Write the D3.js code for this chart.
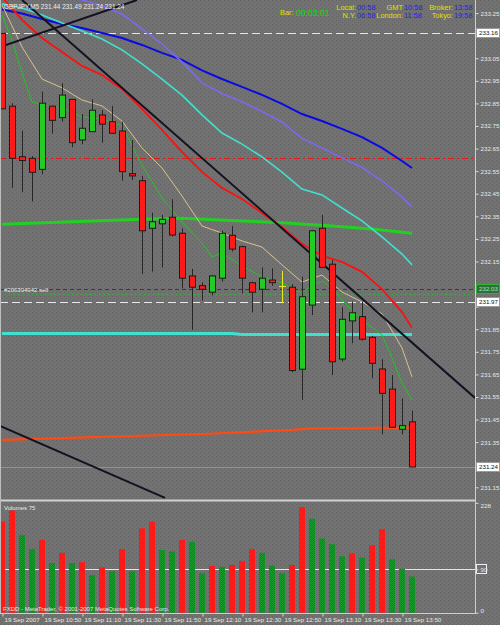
<!DOCTYPE html>
<html>
<head>
<meta charset="utf-8">
<script src="https://cdnjs.cloudflare.com/ajax/libs/d3/7.8.5/d3.min.js"></script>
<style>
  body { margin: 0; background: #717171; }
  svg { display: block; font-family: "Liberation Sans", Arial, sans-serif; }
</style>
</head>
<body>
<div id="chart"></div>
<script>
var svgWidth = 500;
var svgHeight = 625;

// GBPJPY M5 candles, 19 Sep 2007 from 10:30 (one bar every 5 min)
var opens  = [233.160, 232.838, 232.614, 232.607, 232.558, 232.838, 232.787, 232.868, 232.688, 232.725,
              232.799, 232.769, 232.728, 232.539, 232.508, 232.297, 232.317, 232.346, 232.275, 232.086,
              232.043, 232.014, 232.076, 232.266, 232.216, 232.056, 232.027, 232.068, 232.043, 232.036,
              231.673, 231.957, 232.297, 232.138, 231.718, 231.887, 231.906, 231.814, 231.674, 231.585,
              231.407, 231.440];
var highs  = [233.160, 232.851, 232.729, 232.617, 232.902, 232.840, 232.939, 232.870, 232.803, 232.868,
              232.821, 232.839, 232.769, 232.688, 232.529, 232.366, 232.356, 232.426, 232.297, 232.117,
              232.058, 232.090, 232.286, 232.307, 232.220, 232.060, 232.124, 232.120, 232.109, 232.050,
              232.083, 232.290, 232.356, 232.157, 231.947, 231.972, 231.972, 231.820, 231.717, 231.647,
              231.544, 231.490];
var lows   = [232.826, 232.477, 232.457, 232.415, 232.536, 232.716, 232.769, 232.656, 232.669, 232.723,
              232.676, 232.716, 232.508, 232.511, 232.095, 232.105, 232.123, 232.260, 232.031, 231.847,
              231.977, 232.000, 232.061, 232.194, 232.009, 231.925, 231.925, 232.042, 231.965, 231.660,
              231.537, 231.913, 232.120, 231.647, 231.706, 231.788, 231.800, 231.633, 231.385, 231.414,
              231.385, 231.240];
var closes = [232.826, 232.607, 232.597, 232.545, 232.851, 232.775, 232.887, 232.676, 232.740, 232.820,
              232.758, 232.718, 232.548, 232.529, 232.286, 232.326, 232.337, 232.267, 232.076, 232.036,
              232.027, 232.086, 232.275, 232.205, 232.076, 232.014, 232.076, 232.056, 232.043, 231.667,
              231.994, 232.286, 232.124, 231.706, 231.894, 231.923, 231.806, 231.699, 231.566, 231.416,
              231.423, 231.240];
var volumes = [189, 212, 161, 132, 151, 103, 124, 103, 105, 78,
               94, 86, 132, 86, 175, 189, 130, 127, 151, 147,
               82, 97, 95, 99, 107, 132, 124, 98, 82, 99,
               219, 195, 154, 142, 117, 123, 114, 140, 173, 111,
               91, 75];

// moving averages, read at these bars
var maBars    = [0, 2, 4, 6, 8, 10, 12, 14, 16, 18, 20, 22, 24, 26, 28, 30, 32, 34, 36, 38, 40, 41];
var blueMA    = [233.266, 233.248, 233.224, 233.202, 233.184, 233.162, 233.140, 233.109, 233.074, 233.043, 232.996,
                 232.958, 232.923, 232.888, 232.848, 232.803, 232.772, 232.737, 232.701, 232.653, 232.595, 232.564];
var purpleMA  = [233.419, 233.388, 233.361, 233.335, 233.308, 233.282, 233.246, 233.180, 233.113, 233.034, 232.941,
                 232.894, 232.857, 232.814, 232.768, 232.695, 232.653, 232.609, 232.566, 232.507, 232.436, 232.392];
var cyanMA    = [233.291, 233.273, 233.242, 233.206, 233.171, 233.135, 233.087, 233.025, 232.958, 232.887, 232.799,
                 232.719, 232.670, 232.613, 232.546, 232.471, 232.445, 232.387, 232.330, 232.259, 232.183, 232.135];
var redMA     = [233.321, 233.220, 233.140, 233.078, 233.016, 232.976, 232.914, 232.826, 232.733, 232.635, 232.547,
                 232.476, 232.427, 232.365, 232.303, 232.228, 232.175, 232.148, 232.104, 232.028, 231.926, 231.856];
var tanMA     = [233.286, 233.100, 232.958, 232.919, 232.865, 232.839, 232.772, 232.653, 232.564, 232.440, 232.307,
                 232.276, 232.241, 232.214, 232.135, 232.059, 232.090, 232.015, 231.971, 231.918, 231.767, 231.639];

var fastBars  = [0, 1, 2, 3, 4, 6, 8, 10, 12, 14, 16, 18, 20, 21, 22, 24, 26, 28, 29, 30, 31, 32, 33, 34, 36, 38, 39, 40, 41];
var fastMA    = [233.242, 233.131, 232.985, 232.857, 232.843, 232.830, 232.790, 232.783, 232.750, 232.577, 232.431,
                 232.325, 232.232, 232.170, 232.188, 232.130, 232.082, 232.055, 232.028, 232.011, 232.042, 232.064,
                 232.033, 231.980, 231.891, 231.825, 231.723, 231.612, 231.537];

var slowBars  = [0, 7, 14, 18, 20, 28, 33, 37, 41];
var slowMA    = [232.315, 232.326, 232.337, 232.341, 232.337, 232.322, 232.307, 232.294, 232.275];
var flatBars  = [0, 23, 24, 41];
var flatMA    = [231.831, 231.831, 231.827, 231.827];
var orangeBars = [0, 10, 20, 29, 31, 41];
var orangeMA   = [231.360, 231.373, 231.386, 231.404, 231.411, 231.414];

// trendlines as [bar, price] anchors
var trendLines = [
  [[2.0, 233.308], [47.3, 231.546]],
  [[-0.2, 233.100], [13.5, 233.308]],
  [[-0.2, 231.422], [16.3, 231.103]]
];

var dayHigh = 233.16;
var whiteLevel = 231.97;
var redLevel = 232.61;
var orderPrice = 232.03;
var orderLine2 = 232.006;
var bidPrice = 231.24;

var priceTicks = [233.25, 233.15, 233.05, 232.95, 232.85, 232.75, 232.65, 232.55, 232.45, 232.35, 232.25,
                  232.15, 232.05, 231.95, 231.85, 231.75, 231.65, 231.55, 231.45, 231.35, 231.25, 231.15];
// labels hidden under the boxed price tags
var hiddenTicks = [233.15, 232.05, 231.95, 231.25];
var timeTicks = [0, 4, 8, 12, 16, 20, 24, 28, 32, 36, 40];
var timeLabels = ["19 Sep 2007", "19 Sep 10:50", "19 Sep 11:10", "19 Sep 11:30", "19 Sep 11:50", "19 Sep 12:10",
                  "19 Sep 12:30", "19 Sep 12:50", "19 Sep 13:10", "19 Sep 13:30", "19 Sep 13:50"];
var volTicks = [228, 90, 0];

var clockNames = ["Local:", "GMT", "Broker:", "N.Y.", "London:", "Tokyo:"];
var clockTimes = ["00:58", "10:58", "13:58", "06:58", "11:58", "19:58"];

var plotRight = 475;
var mainBottom = 500;
var volBottom = 613;

var svg = d3.select("#chart")
  .append("svg")
  .attr("width", svgWidth)
  .attr("height", svgHeight);

var defs = svg.append("defs");

// speckled grey background like the terminal
var bgPat = defs.append("pattern")
  .attr("id", "bg").attr("width", 4).attr("height", 4)
  .attr("patternUnits", "userSpaceOnUse");
bgPat.append("rect").attr("width", 4).attr("height", 4).attr("fill", "#727272");
bgPat.append("rect").attr("x", 0).attr("y", 0).attr("width", 1).attr("height", 1).attr("fill", "#626262");
bgPat.append("rect").attr("x", 2).attr("y", 2).attr("width", 1).attr("height", 1).attr("fill", "#666666");

var volPat = defs.append("pattern")
  .attr("id", "volGreen").attr("width", 2).attr("height", 2)
  .attr("patternUnits", "userSpaceOnUse");
volPat.append("rect").attr("width", 2).attr("height", 2).attr("fill", "#199a2c");
volPat.append("rect").attr("x", 1).attr("y", 0).attr("width", 1).attr("height", 1).attr("fill", "#0a7670");
volPat.append("rect").attr("x", 0).attr("y", 1).attr("width", 1).attr("height", 1).attr("fill", "#0e7f55");

defs.append("clipPath").attr("id", "mainClip")
  .append("rect").attr("x", 0).attr("y", 0).attr("width", plotRight).attr("height", mainBottom);

svg.append("rect").attr("width", svgWidth).attr("height", svgHeight).attr("fill", "url(#bg)");

// scales
var x = d3.scaleLinear().domain([0, 41]).range([2, 412]);
var y = d3.scaleLinear().domain([231.15, 233.25]).range([487.3, 13.1]);
var yVol = d3.scaleLinear().domain([0, 228]).range([612.7, 502.8]);

var mainGroup = svg.append("g").attr("clip-path", "url(#mainClip)");

function hLevel(price, color, dash, width) {
  mainGroup.append("line")
    .attr("x1", 0).attr("x2", plotRight)
    .attr("y1", Math.round(y(price)) + 0.5).attr("y2", Math.round(y(price)) + 0.5)
    .attr("stroke", color)
    .attr("stroke-width", width || 1)
    .attr("stroke-dasharray", dash);
}

hLevel(dayHigh, "#e6e6e6", "8,4");
hLevel(redLevel, "#e01818", "6,3,2,3");
hLevel(orderPrice, "#3c3c3c", "4,3");
hLevel(orderLine2, "#2fb52f", "1.5,3");
hLevel(whiteLevel, "#e6e6e6", "8,4");
hLevel(bidPrice, "#8a94a0", null);

mainGroup.append("text")
  .attr("x", 4).attr("y", y(orderPrice) + 3)
  .attr("font-size", "6px").attr("fill", "#e8e8e8")
  .text("#206394942 sell");

// moving averages
function zip(bars, vals) {
  return bars.map(function(b, i) { return [b, vals[i]]; });
}
var maLine = d3.line()
  .x(function(d) { return x(d[0]); })
  .y(function(d) { return y(d[1]); });

var maList = [
  { bars: slowBars, vals: slowMA, color: "#22d022", width: 3 },
  { bars: flatBars, vals: flatMA, color: "#40e0d0", width: 3 },
  { bars: orangeBars, vals: orangeMA, color: "#ff4a12", width: 2.2 },
  { bars: maBars, vals: blueMA, color: "#0a0ae6", width: 2 },
  { bars: maBars, vals: purpleMA, color: "#7b68ee", width: 1.6 },
  { bars: maBars, vals: cyanMA, color: "#40e0d0", width: 1.6 },
  { bars: maBars, vals: redMA, color: "#ff1010", width: 1.8 },
  { bars: maBars, vals: tanMA, color: "#d8c38e", width: 1 },
  { bars: fastBars, vals: fastMA, color: "#22c422", width: 1 }
];

maList.forEach(function(ma) {
  mainGroup.append("path")
    .datum(zip(ma.bars, ma.vals))
    .attr("fill", "none")
    .attr("stroke", ma.color)
    .attr("stroke-width", ma.width)
    .attr("d", maLine);
});

// trendlines
trendLines.forEach(function(t) {
  mainGroup.append("line")
    .attr("x1", x(t[0][0])).attr("y1", y(t[0][1]))
    .attr("x2", x(t[1][0])).attr("y2", y(t[1][1]))
    .attr("stroke", "#121222")
    .attr("stroke-width", 2);
});

// candles
var candles = mainGroup.selectAll(".candle")
  .data(d3.range(opens.length))
  .enter()
  .append("g")
  .attr("class", "candle");

candles.append("line")
  .attr("x1", function(i) { return x(i) + 0.5; })
  .attr("x2", function(i) { return x(i) + 0.5; })
  .attr("y1", function(i) { return y(highs[i]); })
  .attr("y2", function(i) { return y(lows[i]); })
  .attr("stroke", function(i) { return opens[i] === closes[i] ? "#e8e820" : "#262626"; })
  .attr("stroke-width", 1);

candles.filter(function(i) { return opens[i] !== closes[i]; })
  .append("rect")
  .attr("x", function(i) { return x(i) - 2.5; })
  .attr("y", function(i) { return y(Math.max(opens[i], closes[i])); })
  .attr("width", 6)
  .attr("height", function(i) { return Math.max(1, Math.abs(y(opens[i]) - y(closes[i]))); })
  .attr("fill", function(i) { return closes[i] > opens[i] ? "#22cc22" : "#ff1a1a"; })
  .attr("stroke", "#1c1c1c")
  .attr("stroke-width", 1);

// doji tick
candles.filter(function(i) { return opens[i] === closes[i]; })
  .append("line")
  .attr("x1", function(i) { return x(i) - 3; })
  .attr("x2", function(i) { return x(i) + 4; })
  .attr("y1", function(i) { return Math.round(y(opens[i])) + 0.5; })
  .attr("y2", function(i) { return Math.round(y(opens[i])) + 0.5; })
  .attr("stroke", "#e8e820");

// volumes
svg.append("line")
  .attr("x1", 0).attr("x2", plotRight)
  .attr("y1", Math.round(yVol(90)) + 0.5).attr("y2", Math.round(yVol(90)) + 0.5)
  .attr("stroke", "#e6e6e6");

svg.selectAll(".vol")
  .data(volumes)
  .enter()
  .append("rect")
  .attr("class", "vol")
  .attr("x", function(d, i) { return x(i) - 3; })
  .attr("y", function(d) { return yVol(d); })
  .attr("width", 6)
  .attr("height", function(d) { return yVol(0) - yVol(d); })
  .attr("fill", function(d, i) { return (i === 0 || d > volumes[i - 1]) ? "#ff1a1a" : "url(#volGreen)"; });

svg.append("text")
  .attr("x", 4).attr("y", 510)
  .attr("font-size", "6px").attr("fill", "#e8e8e8")
  .text("Volumes " + volumes[volumes.length - 1]);

svg.append("text")
  .attr("x", 3).attr("y", 611)
  .attr("font-size", "6px").attr("fill", "#e8e8e8")
  .text("FXDD - MetaTrader, \u00a9 2001-2007 MetaQuotes Software Corp.");

// frame
svg.append("line").attr("x1", 0).attr("x2", plotRight).attr("y1", 500.5).attr("y2", 500.5)
  .attr("stroke", "#cfcfcf").attr("stroke-width", 2);
svg.append("line").attr("x1", 0).attr("x2", plotRight).attr("y1", volBottom + 0.5).attr("y2", volBottom + 0.5)
  .attr("stroke", "#cfcfcf");
svg.append("line").attr("x1", plotRight + 0.5).attr("x2", plotRight + 0.5).attr("y1", 0).attr("y2", volBottom + 1)
  .attr("stroke", "#cfcfcf");
svg.append("line").attr("x1", 0.5).attr("x2", 0.5).attr("y1", 0).attr("y2", volBottom)
  .attr("stroke", "#bdbdbd");

// price axis
var priceAxis = svg.append("g")
  .attr("transform", "translate(" + (plotRight + 0.5) + ",0)")
  .call(d3.axisRight(y).tickValues(priceTicks)
    .tickFormat(function(d) {
      var hidden = hiddenTicks.some(function(h) { return Math.abs(h - d) < 1e-6; });
      return hidden ? "" : d3.format(".2f")(d);
    })
    .tickSize(3).tickPadding(2));
priceAxis.select(".domain").remove();
priceAxis.selectAll("line").attr("stroke", "#d8d8d8");
priceAxis.selectAll("text").attr("fill", "#e8e8e8").attr("font-size", "6.2px")
  .attr("font-family", "Liberation Sans, Arial, sans-serif");

var volAxis = svg.append("g")
  .attr("transform", "translate(" + (plotRight + 0.5) + ",0)")
  .call(d3.axisRight(yVol).tickValues(volTicks).tickSize(3).tickPadding(2));
volAxis.select(".domain").remove();
volAxis.selectAll("line").attr("stroke", "#d8d8d8");
volAxis.selectAll("text").attr("fill", "#e8e8e8").attr("font-size", "6.2px")
  .attr("font-family", "Liberation Sans, Arial, sans-serif")
  .attr("dy", function(d) { return d === 0 ? "-0.1em" : (d === 228 ? "0.8em" : "0.32em"); });

// boxed price labels on the right
function priceBox(val, label, fill, textColor, stroke) {
  var yy = Math.round(y(val));
  svg.append("rect")
    .attr("x", plotRight + 1.5).attr("y", yy - 4.5)
    .attr("width", 23).attr("height", 9)
    .attr("fill", fill).attr("stroke", stroke);
  svg.append("text")
    .attr("x", plotRight + 4).attr("y", yy + 2.3)
    .attr("font-size", "6.2px").attr("fill", textColor)
    .text(label);
}
priceBox(dayHigh, "233.16", "#ffffff", "#111111", "#9a9a9a");
priceBox(orderPrice, "232.03", "#2f6e3f", "#9fe7a9", "#2fb52f");
priceBox(whiteLevel, "231.97", "#ffffff", "#111111", "#9a9a9a");
priceBox(bidPrice, "231.24", "#ffffff", "#111111", "#9a9a9a");

var y90 = Math.round(yVol(90));
svg.append("rect").attr("x", plotRight + 1.5).attr("y", y90 - 4.5).attr("width", 10).attr("height", 9)
  .attr("fill", "#717171").attr("stroke", "#eeeeee");
volAxis.raise();

// time axis
var timeAxis = svg.append("g")
  .attr("transform", "translate(0," + (volBottom + 0.5) + ")")
  .call(d3.axisBottom(x).tickValues(timeTicks)
    .tickFormat(function(d, i) { return timeLabels[i]; })
    .tickSize(3).tickPadding(1));
timeAxis.select(".domain").remove();
timeAxis.selectAll("line").attr("stroke", "#d8d8d8").attr("transform", "translate(0.5,0)");
timeAxis.selectAll("text").attr("fill", "#e8e8e8").attr("font-size", "6.2px")
  .attr("font-family", "Liberation Sans, Arial, sans-serif")
  .attr("text-anchor", "start").attr("dx", "2");

// header
svg.append("text")
  .attr("x", 4).attr("y", 9)
  .attr("font-size", "6.4px").attr("fill", "#eeeeee")
  .text("GBPJPY,M5  " + opens[41].toFixed(2) + " " + highs[41].toFixed(2) + " " + lows[41].toFixed(2) + " " + closes[41].toFixed(2));

svg.append("text").attr("x", 280).attr("y", 14.5)
  .attr("font-size", "7.4px").attr("fill", "#e0e000").text("Bar:");
svg.append("text").attr("x", 296).attr("y", 15.5)
  .attr("font-size", "8.6px").attr("fill", "#00e000").text("00:03:01");

var nameRight = [356, 403, 453];
var timeLeft = [357, 404, 454];
clockNames.forEach(function(n, i) {
  var row = Math.floor(i / 3);
  var col = i % 3;
  svg.append("text").attr("x", nameRight[col]).attr("y", 9.7 + row * 8)
    .attr("font-size", "7.4px").attr("fill", "#e0e000").attr("text-anchor", "end").text(n);
  svg.append("text").attr("x", timeLeft[col]).attr("y", 9.7 + row * 8)
    .attr("font-size", "7.4px").attr("fill", "#2020ff").text(clockTimes[i]);
});
</script>
</body>
</html>
